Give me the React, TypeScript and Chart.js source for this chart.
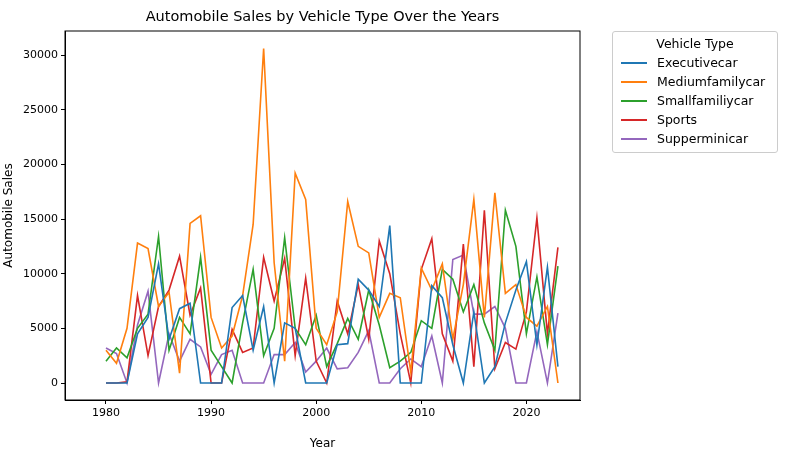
import React, { useEffect, useRef } from "react";
import { Chart, registerables } from "chart.js";
Chart.register(...registerables);

const years = Array.from({ length: 44 }, (_, i) => 1980 + i);
const executivecar = [0, 0, 0, 4500, 6000, 10900, 4000, 6800, 7300, 0, 0, 0, 6900, 8000, 3000, 7000, 0, 5500, 5000, 0, 0, 0, 3500, 3600, 9500, 8500, 7000, 14400, 0, 0, 0, 8900, 7800, 3500, 0, 6500, 0, 1500, 5500, 8500, 11100, 3500, 10600, 1500];
const mediumfamilycar = [3000, 1800, 5000, 12800, 12300, 7000, 8300, 900, 14600, 15300, 6000, 3200, 4300, 8000, 14500, 30600, 11000, 2000, 19200, 16800, 5000, 3500, 6500, 16600, 12500, 11900, 6000, 8200, 7800, 1000, 10500, 8500, 10900, 4000, 9000, 16800, 6000, 17400, 8200, 9000, 6000, 5200, 7000, 0];
const smallfamiliycar = [2000, 3200, 2300, 5000, 6300, 13400, 3000, 6000, 4500, 11500, 3000, 1500, 0, 5500, 10400, 2500, 5000, 13300, 5000, 3500, 6200, 1500, 3600, 5900, 4000, 8500, 5300, 1400, 2000, 2800, 5700, 5000, 10400, 9500, 6500, 9000, 5500, 3000, 15800, 12500, 4500, 9700, 3500, 10700];
const sports = [0, 0, 100, 8000, 2500, 7000, 8500, 11600, 6200, 8700, 0, 0, 4900, 2800, 3200, 11500, 7500, 11400, 2500, 9600, 2000, 0, 7500, 4500, 9000, 4000, 13000, 10000, 4500, 0, 10400, 13200, 4500, 2000, 12700, 1500, 15800, 1300, 3700, 3100, 6500, 15100, 4500, 12400];
const supperminicar = [3200, 2700, 0, 5300, 8400, 0, 4500, 2000, 4000, 3300, 800, 2600, 3000, 0, 0, 0, 2600, 2600, 3700, 1000, 2000, 3200, 1300, 1400, 2800, 4800, 0, 0, 1300, 2200, 1500, 4300, 0, 11300, 11700, 6300, 6300, 7000, 5000, 0, 0, 4700, 0, 6400];
const xTicks = [1980, 1990, 2000, 2010, 2020];
const yTicks = [0, 5000, 10000, 15000, 20000, 25000, 30000];

const seriesList = [
  { label: "Executivecar", data: executivecar, color: "#1f77b4" },
  { label: "Mediumfamilycar", data: mediumfamilycar, color: "#ff7f0e" },
  { label: "Smallfamiliycar", data: smallfamiliycar, color: "#2ca02c" },
  { label: "Sports", data: sports, color: "#d62728" },
  { label: "Supperminicar", data: supperminicar, color: "#9467bd" },
];

const font = "'DejaVu Sans', sans-serif";

const frame = {
  id: "frame",
  afterDraw(chart: any) {
    const { ctx, chartArea: a } = chart;
    ctx.save();
    ctx.strokeStyle = "#000";
    ctx.lineWidth = 1;
    ctx.strokeRect(a.left, a.top, a.right - a.left, a.bottom - a.top);
    ctx.restore();
  },
};

export default function App() {
  const canvasRef = useRef<HTMLCanvasElement | null>(null);

  useEffect(() => {
    if (!canvasRef.current) return;
    const tickOpts = { color: "#000", font: { family: font, size: 11 }, padding: 3 };
    const gridOpts = { drawOnChartArea: false, drawTicks: true, tickLength: 4, color: "#000" };
    const chart = new Chart(canvasRef.current, {
      type: "line",
      data: {
        datasets: seriesList.map((s) => ({
          label: s.label,
          data: years.map((y, i) => ({ x: y, y: s.data[i] })),
          borderColor: s.color,
          backgroundColor: s.color,
          borderWidth: 1.6,
          pointRadius: 0,
          tension: 0,
        })),
      },
      options: {
        animation: false,
        responsive: false,
        layout: { padding: { top: 31, right: 212, bottom: 0, left: 0 } },
        plugins: { legend: { display: false }, tooltip: { enabled: false } },
        scales: {
          x: {
            type: "linear",
            min: 1976.1,
            max: 2025.1,
            afterBuildTicks: (ax: any) => { ax.ticks = xTicks.map((v) => ({ value: v })); },
            afterFit: (ax: any) => { ax.height = 53; },
            grid: gridOpts,
            border: { color: "#000" },
            ticks: { ...tickOpts, callback: (v: any) => String(v) },
            title: { display: true, text: "Year", color: "#000", font: { family: font, size: 12 }, padding: 2 },
          },
          y: {
            min: -1555,
            max: 32200,
            afterBuildTicks: (ax: any) => { ax.ticks = yTicks.map((v) => ({ value: v })); },
            afterFit: (ax: any) => { ax.width = 65; },
            grid: gridOpts,
            border: { color: "#000" },
            ticks: { ...tickOpts, callback: (v: any) => String(v) },
            title: { display: true, text: "Automobile Sales", color: "#000", font: { family: font, size: 12 }, padding: 2 },
          },
        },
      },
      plugins: [frame],
    });
    return () => chart.destroy();
  }, []);

  return (
    <div style={{ position: "absolute", left: 0, top: 0, width: 792, height: 453, background: "#fff", fontFamily: font }}>
      <canvas ref={canvasRef} width={792} height={453} />
      <div style={{ position: "absolute", left: 65, width: 515, top: 8, textAlign: "center", fontSize: 14.5, color: "#000" }}>
        Automobile Sales by Vehicle Type Over the Years
      </div>
      <div style={{ position: "absolute", left: 612, top: 31, width: 166, border: "1px solid #ccc", borderRadius: 3, padding: "4px 8px 4px 8px", boxSizing: "border-box", fontSize: 12.5, color: "#000" }}>
        <div style={{ textAlign: "center", marginBottom: 2 }}>Vehicle Type</div>
        {seriesList.map((s) => (
          <div key={s.label} style={{ display: "flex", alignItems: "center", height: 19 }}>
            <span style={{ display: "inline-block", width: 26, height: 2, background: s.color, marginRight: 10 }} />
            <span>{s.label}</span>
          </div>
        ))}
      </div>
    </div>
  );
}
